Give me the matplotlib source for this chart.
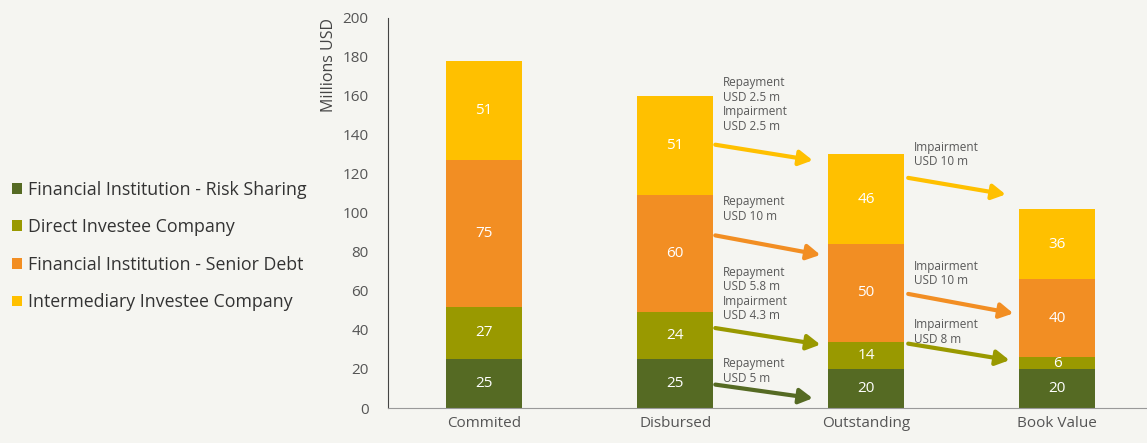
import matplotlib.pyplot as plt
import numpy as np

plt.rcParams['font.family'] = ['Open Sans', 'DejaVu Sans']

stages = ['Commited', 'Disbursed', 'Outstanding', 'Book Value']
series = ['Financial Institution - Risk Sharing', 'Direct Investee Company',
          'Financial Institution - Senior Debt', 'Intermediary Investee Company']
risk_sharing = [25, 25, 20, 20]
direct_investee = [27, 24, 14, 6]
senior_debt = [75, 60, 50, 40]
intermediary = [51, 51, 46, 36]
colors = ['#556a23', '#999900', '#f28e23', '#ffc000']

# flow notes between stages: text, series index
flow_notes = [
    ('Repayment\nUSD 2.5 m\nImpairment\nUSD 2.5 m', 3),
    ('Repayment\nUSD 10 m', 2),
    ('Repayment\nUSD 5.8 m\nImpairment\nUSD 4.3 m', 1),
    ('Repayment\nUSD 5 m', 0),
    ('Impairment\nUSD 10 m', 3),
    ('Impairment\nUSD 10 m', 2),
    ('Impairment\nUSD 8 m', 1),
]
# (text x, text top y, arrow start, arrow end)
note_pos = [
    (1.25, 170, (1.21, 135), (1.72, 127)),
    (1.25, 109, (1.21, 88.5), (1.76, 78.5)),
    (1.25, 73, (1.21, 41), (1.76, 32.5)),
    (1.25, 26, (1.21, 12), (1.72, 5)),
    (2.25, 137, (2.22, 118), (2.73, 109.5)),
    (2.25, 76, (2.22, 58.5), (2.77, 48.5)),
    (2.25, 46, (2.22, 33), (2.75, 24.5)),
]

bg = '#f5f5f1'
fig = plt.figure(figsize=(11.47, 4.43), dpi=100, facecolor=bg)
ax = fig.add_axes([0.3383, 0.079, 0.6617, 0.8805], facecolor=bg)

x = np.arange(len(stages))
data = [risk_sharing, direct_investee, senior_debt, intermediary]
bottom = np.zeros(len(stages))
for name, vals, c in zip(series, data, colors):
    vals = np.array(vals, dtype=float)
    ax.bar(x, vals, 0.4, bottom=bottom, color=c, label=name)
    for xi, b, v in zip(x, bottom, vals):
        ax.text(xi, b + v / 2, f'{v:.0f}', ha='center', va='center',
                color='white', fontsize=11)
    bottom += vals

for (txt, si), (tx, ty, start, end) in zip(flow_notes, note_pos):
    ax.text(tx, ty, txt, ha='left', va='top', fontsize=8.5, color='#595959',
            linespacing=1.15)
    ax.annotate('', xy=end, xytext=start,
                arrowprops=dict(arrowstyle='-|>,head_length=0.8,head_width=0.45',
                                lw=3, color=colors[si], shrinkA=0, shrinkB=0))

ax.set_xlim(-0.503, 3.47)
ax.set_ylim(0, 200)
ax.set_yticks(np.arange(0, 201, 20))
ax.set_xticks(x)
ax.set_xticklabels(stages)
ax.tick_params(length=0, labelsize=11, colors='#555555', pad=6)
ax.tick_params(axis='y', pad=14)
ax.set_ylabel('Millions USD', loc='top', fontsize=11.5, color='#444444', labelpad=4)
for s in ['top', 'right']:
    ax.spines[s].set_visible(False)
ax.spines['left'].set_color('#444444')
ax.spines['bottom'].set_color('#999999')

fig.legend(loc='center left', bbox_to_anchor=(0.0, 0.445), frameon=False,
           fontsize=12.8, handlelength=0.55, handleheight=0.55, handletextpad=0.35,
           labelspacing=1.1, labelcolor='#333333', borderaxespad=0.3)

fig.savefig('out.png', dpi=100, facecolor=bg)
